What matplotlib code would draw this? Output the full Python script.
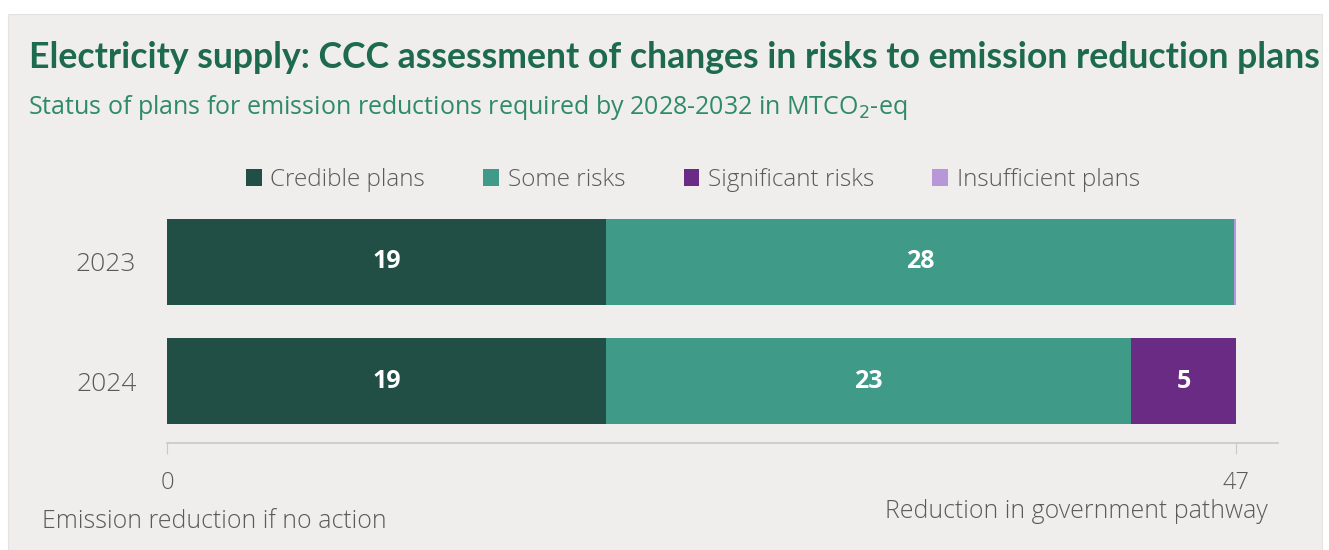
import matplotlib.pyplot as plt
from matplotlib.patches import Rectangle, Patch

# data
years = ['2023', '2024']
series = ['Credible plans', 'Some risks', 'Significant risks', 'Insufficient plans']
values = {
    'Credible plans':     [19.3, 19.3],
    'Some risks':         [27.6, 23.1],
    'Significant risks':  [0.0, 4.6],
    'Insufficient plans': [0.1, 0.0],
}
colors = ['#214e45', '#3f9a87', '#6a2b85', '#b797d8']
pathway_total = 47

plt.rcParams['font.family'] = ['Open Sans', 'DejaVu Sans']
bg = '#efeeec'
grey = '#5a5a5a'

fig = plt.figure(figsize=(13.29, 5.5), dpi=100, facecolor='white')
fig.patches.append(Rectangle((8 / 1329, 0), 1314 / 1329, 536 / 550,
                             transform=fig.transFigure, facecolor=bg,
                             edgecolor='#e4e3e1', lw=0.8, zorder=-5))

ax = fig.add_axes([167 / 1329, 107 / 550, (1278 - 167) / 1329, 243 / 550])
ax.set_facecolor('none')

ypos = list(range(len(years)))
left = [0.0] * len(years)
for name, col in zip(series, colors):
    vals = values[name]
    ax.barh(ypos, vals, left=left, height=0.72, color=col, label=name, zorder=2)
    for y, v, l in zip(ypos, vals, left):
        if v >= 1:
            ax.text(l + v / 2, y, f'{round(v)}', ha='center', va='center',
                    color='white', fontsize=18, fontweight='bold', zorder=3)
    left = [a + b for a, b in zip(left, vals)]

ax.set_xlim(0, pathway_total * (1278 - 167) / (1236 - 167))
ax.set_ylim(1.521, -0.521)
ax.set_yticks(ypos)
ax.set_yticklabels(years, fontsize=19, color=grey, fontweight='light')
ax.tick_params(axis='y', length=0, pad=22)
ax.set_xticks([0, pathway_total])
ax.set_xticklabels(['0', str(pathway_total)], fontsize=17, color=grey, fontweight='light')
ax.tick_params(axis='x', length=8, color='#c8c8c8', pad=12)
for s in ['top', 'right', 'left']:
    ax.spines[s].set_visible(False)
ax.spines['bottom'].set_color('#c8c8c8')
ax.spines['bottom'].set_linewidth(1.2)

handles = [Patch(facecolor=c, label=n) for n, c in zip(series, colors)]
fig.legend(handles=handles, loc='center', bbox_to_anchor=(693 / 1329, 1 - 180 / 550),
           ncol=4, frameon=False, labelcolor=grey,
           prop={'size': 17.5, 'weight': 'light'},
           handlelength=0.65, handleheight=0.65, handletextpad=0.35,
           columnspacing=2.4)

fig.text(29 / 1329, 1 - 57 / 550,
         'Electricity supply: CCC assessment of changes in risks to emission reduction plans',
         fontsize=25.7, fontweight='bold', color='#1d6a50', va='center',
         family=['Lato', 'DejaVu Sans'])
fig.text(28 / 1329, 1 - 107 / 550,
         'Status of plans for emission reductions required by 2028-2032 in MTCO$_2$-eq',
         fontsize=18, color='#2f8a6c', va='center')
fig.text(42 / 1329, 1 - 521 / 550, 'Emission reduction if no action',
         fontsize=17.9, color=grey, va='center', fontweight='light')
fig.text(1268 / 1329, 1 - 512 / 550, 'Reduction in government pathway',
         fontsize=17.9, color=grey, va='center', ha='right', fontweight='light')

fig.savefig('out.png', dpi=100, facecolor=fig.get_facecolor())
